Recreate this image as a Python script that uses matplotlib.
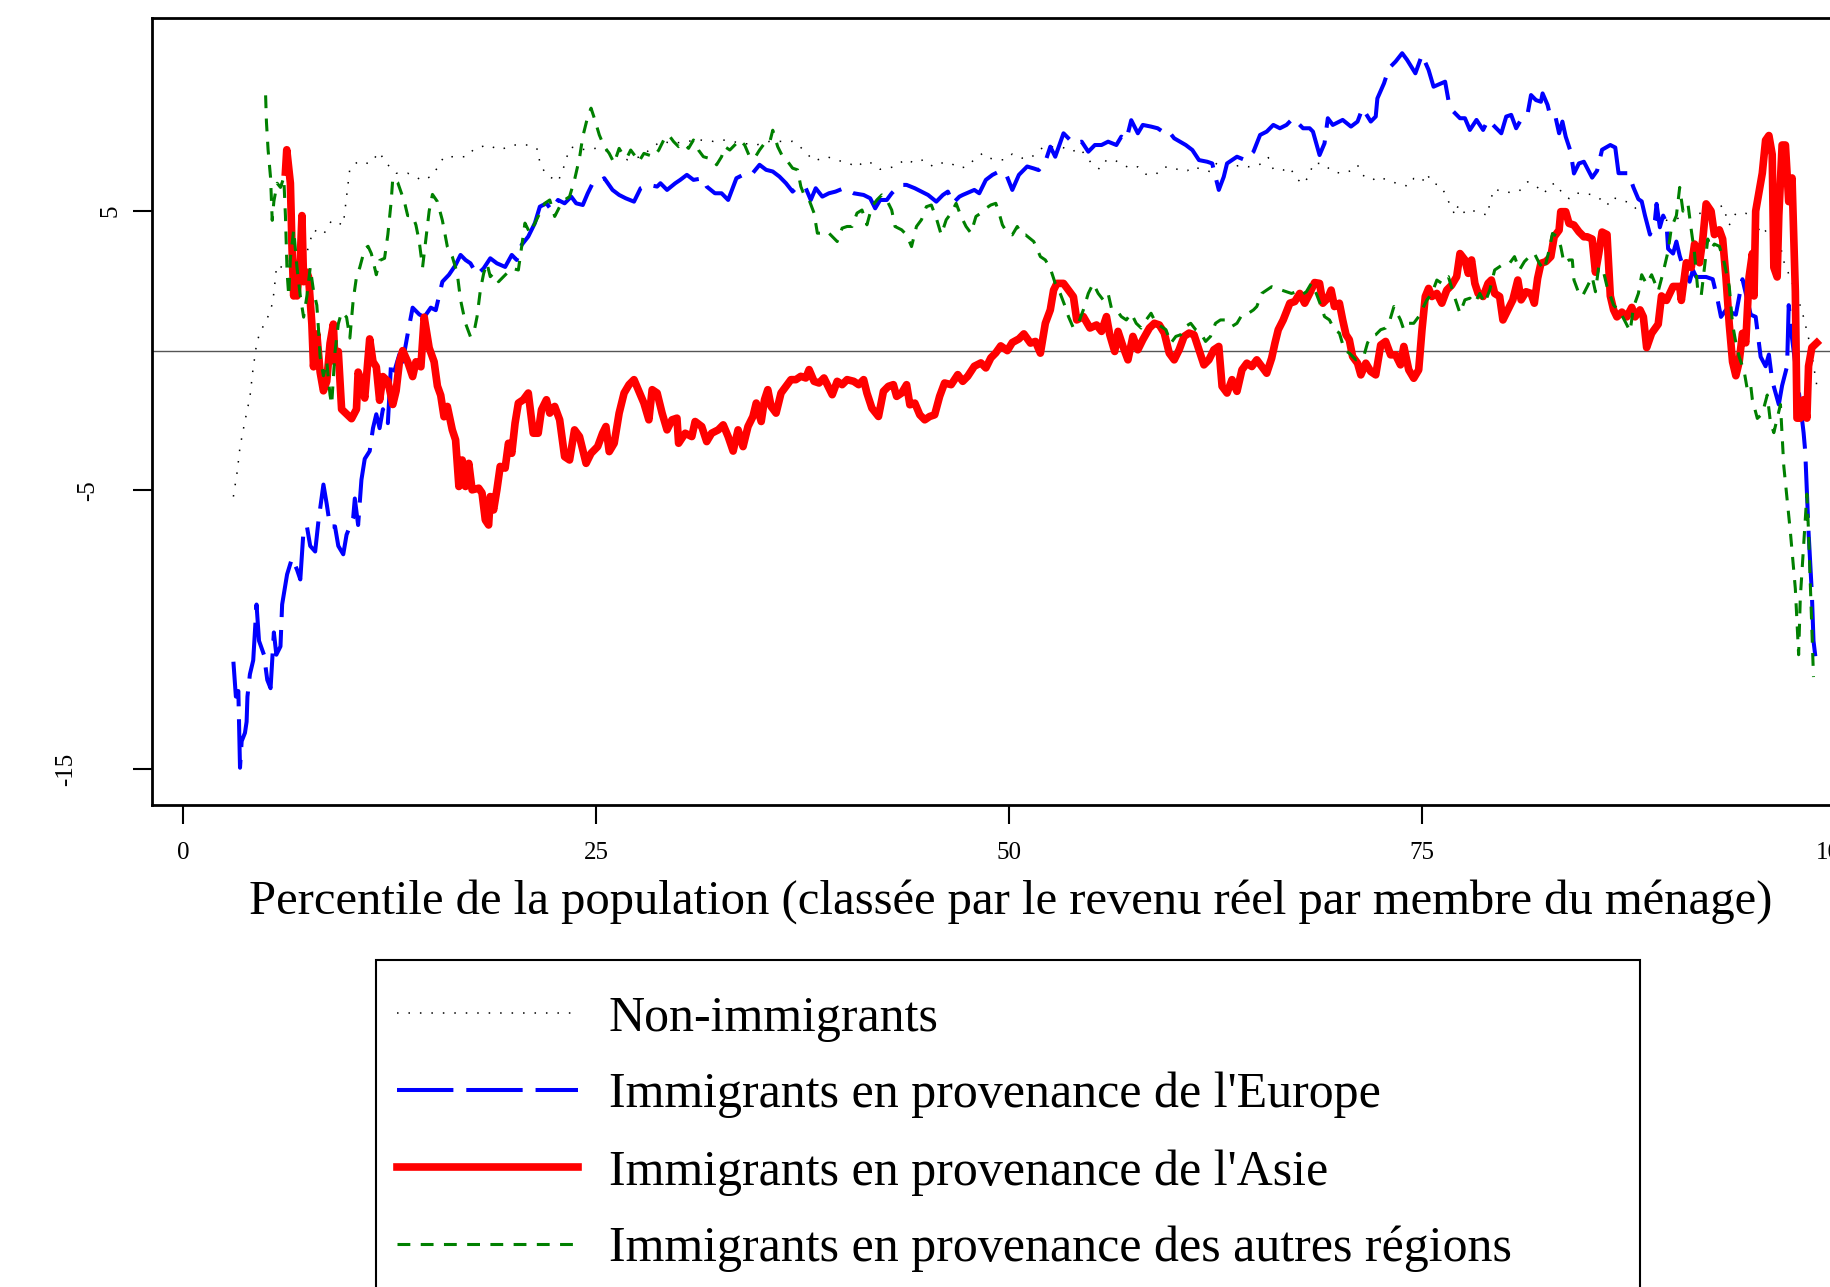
import matplotlib
matplotlib.use("Agg")
import matplotlib.pyplot as plt
import matplotlib.transforms as mtransforms
from matplotlib.lines import Line2D
from matplotlib.patches import Rectangle

plt.rcParams['font.family'] = ['Liberation Serif', 'DejaVu Serif']

# Non-immigrants (black dotted)
nonimm_x = [3.05, 3.29, 3.45, 3.75, 4.05, 4.22, 4.42, 4.62, 5.1, 5.43, 5.57, 5.67, 6.07, 6.47, 7.48, 7.89, 8.5, 9.0, 9.7, 9.9,
            10.1, 10.6, 11.3, 11.9, 12.2, 12.9, 13.6, 14.5, 15.1, 15.8, 16.4, 17.2, 17.6, 18.4, 19.2, 20.0, 21.0, 21.5, 21.6, 22.0,
            22.7, 23.0, 23.2, 23.5, 24.0, 25.0, 26.1, 26.9, 27.7, 28.9, 29.7, 30.5, 31.3, 32.1, 32.7, 33.9, 34.7, 35.5, 36.3, 36.9,
            37.3, 37.8, 38.2, 39.0, 39.5, 40.3, 40.8, 41.2, 41.7, 42.2, 42.7, 43.2, 43.7, 44.3, 44.8, 45.4, 45.8, 46.4, 47.0, 47.5,
            47.9, 48.4, 48.8, 49.3, 49.8, 50.2, 50.8, 51.3, 52.1, 52.7, 53.2, 53.8, 54.3, 55.0, 55.5, 55.9, 56.4, 56.9, 57.4, 57.8,
            58.3, 58.9, 59.3, 59.8, 60.4, 60.8, 61.1, 61.7, 62.2, 62.6, 63.1, 63.6, 64.0, 64.5, 65.0, 65.4, 65.7, 66.0, 66.6, 67.0,
            67.4, 67.8, 68.2, 68.4, 69.0, 69.6, 70.2, 70.8, 71.1, 71.4, 72.0, 72.3, 72.8, 73.2, 73.8, 74.2, 74.5, 75.0, 75.3, 75.6,
            76.1, 76.4, 76.7, 77.0, 77.2, 77.6, 78.0, 78.5, 79.0, 79.1, 79.4, 79.8, 80.4, 80.9, 81.4, 81.9, 82.4, 82.7, 83.1, 83.5,
            83.9, 84.3, 84.8, 85.2, 85.8, 86.2, 86.5, 87.0, 87.6, 88.1, 88.6, 89.2, 89.8, 90.6, 91.4, 92.2, 93.2, 93.6, 94.0, 94.6,
            95.1, 95.5, 96.1, 96.5, 96.9, 97.3, 97.7, 98.1, 98.5, 98.9]
nonimm_y = [-5.23, -4.3, -3.45, -2.52, -1.67, -0.75, 0.1, 0.61, 1.15, 1.71, 2.47, 3.06, 2.97, 3.23, 3.48, 4.33, 4.16, 4.67, 4.5, 5.5,
            6.53, 6.78, 6.7, 7.12, 6.78, 6.36, 6.36, 6.1, 6.27, 6.95, 6.95, 6.95, 7.22, 7.37, 7.2, 7.37, 7.37, 7.2, 6.7, 6.3,
            6.06, 6.48, 6.9, 7.3, 7.2, 7.25, 7.1, 6.84, 6.95, 7.5, 7.43, 7.5, 7.55, 7.5, 7.55, 7.43, 7.37, 7.5, 7.5, 7.5,
            7.34, 7.04, 6.8, 6.95, 6.84, 6.72, 6.57, 6.78, 6.72, 6.5, 6.54, 6.62, 6.86, 6.72, 6.84, 6.6, 6.72, 6.74, 6.54, 6.6,
            6.86, 7.07, 6.9, 6.84, 6.84, 7.05, 6.9, 6.9, 7.31, 7.3, 7.3, 7.13, 7.25, 6.71, 6.5, 6.83, 6.83, 6.65, 6.53, 6.59,
            6.32, 6.32, 6.57, 6.59, 6.45, 6.45, 6.59, 6.5, 6.41, 6.74, 6.59, 6.59, 6.65, 6.59, 6.65, 6.71, 6.92, 6.5, 6.47, 6.57,
            6.17, 5.97, 6.29, 6.71, 6.71, 6.41, 6.35, 6.47, 6.65, 6.29, 6.11, 6.23, 6.14, 6.05, 5.93, 5.9, 6.17, 6.05, 6.35, 6.0,
            5.93, 5.63, 5.22, 4.86, 5.22, 4.92, 5.04, 4.92, 4.86, 5.34, 5.81, 5.69, 5.67, 5.73, 6.05, 5.9, 5.63, 5.93, 6.0, 5.63,
            5.45, 5.65, 5.62, 5.6, 5.43, 5.2, 5.5, 5.4, 5.3, 5.0, 4.84, 4.8, 4.67, 4.75, 4.92, 4.92, 5.2, 4.5, 4.92, 4.92,
            4.84, 4.16, 4.42, 4.3, 3.2, 2.6, 2.0, 1.2, 0.2, -1.25]

# Immigrants from Europe (blue long dash)
europe_x = [3.05, 3.2, 3.35, 3.45, 3.55, 3.75, 3.85, 3.9, 4.05, 4.25, 4.45, 4.6, 4.9, 5.1, 5.3, 5.5, 5.65, 5.9, 6.0, 6.3,
            6.6, 6.9, 7.1, 7.3, 7.5, 7.7, 8.0, 8.2, 8.5, 8.7, 8.9, 9.2, 9.4, 9.7, 9.9, 10.3, 10.4, 10.6, 10.8, 11.0,
            11.3, 11.5, 11.7, 11.9, 12.1, 12.4, 12.6, 12.8, 13.1, 13.3, 13.6, 13.9, 14.3, 14.6, 15.0, 15.3, 15.7, 16.1, 16.5, 16.8,
            17.1, 17.4, 17.8, 18.2, 18.6, 19.0, 19.5, 19.9, 20.2, 20.5, 20.9, 21.3, 21.6, 22.0, 22.3, 22.7, 23.1, 23.5, 23.8, 24.2,
            24.5, 24.8, 25.2, 25.5, 26.0, 26.4, 26.8, 27.3, 27.7, 28.2, 28.7, 28.9, 29.3, 29.8, 30.1, 30.5, 30.9, 31.5, 31.7, 32.2,
            32.6, 33.0, 33.5, 33.9, 34.4, 34.9, 35.3, 35.7, 36.1, 36.5, 36.9, 37.2, 37.7, 38.0, 38.3, 38.7, 39.1, 39.5, 40.0, 40.6,
            41.2, 41.6, 41.9, 42.2, 42.6, 42.9, 43.4, 43.8, 44.3, 44.7, 45.1, 45.6, 46.0, 46.3, 46.6, 47.0, 47.2, 47.9, 48.2, 48.6,
            49.0, 49.4, 49.8, 50.2, 50.6, 51.1, 51.5, 51.8, 52.2, 52.5, 52.8, 53.3, 53.9, 54.4, 54.8, 55.2, 55.6, 56.0, 56.5, 56.8,
            57.1, 57.4, 57.8, 58.1, 58.6, 59.0, 59.3, 59.6, 60.0, 60.7, 61.1, 61.5, 62.0, 62.3, 62.7, 63.0, 63.2, 63.8, 64.3, 64.8,
            65.2, 65.6, 66.0, 66.4, 66.8, 67.2, 67.8, 68.2, 68.4, 68.8, 69.1, 69.3, 69.6, 70.2, 70.7, 71.1, 71.4, 71.9, 72.2, 72.3,
            72.7, 73.0, 73.4, 73.8, 74.1, 74.6, 75.0, 75.4, 75.7, 76.4, 76.6, 76.9, 77.3, 77.6, 77.9, 78.3, 78.7, 79.0, 79.4, 79.8,
            80.1, 80.4, 80.7, 81.1, 81.4, 81.6, 81.9, 82.2, 82.3, 82.6, 82.8, 83.1, 83.3, 83.5, 83.7, 84.0, 84.2, 84.5, 84.8, 85.3,
            85.6, 85.9, 86.4, 86.7, 86.9, 87.5, 87.8, 88.1, 88.3, 88.5, 88.8, 89.1, 89.2, 89.4, 89.6, 89.8, 89.9, 90.2, 90.4, 90.6,
            90.9, 91.2, 91.4, 91.6, 92.2, 92.6, 92.9, 93.1, 93.4, 94.0, 94.4, 94.6, 94.9, 95.2, 95.5, 95.8, 96.0, 96.2, 96.6, 96.8,
            97.1, 97.2, 97.4, 97.8, 98.1, 98.2, 98.4, 98.6, 98.7, 98.9]
europe_y = [-11.15, -12.4, -12.2, -14.95, -14.0, -13.7, -13.3, -12.4, -11.6, -11.1, -9.1, -10.4, -10.9, -11.8, -12.1, -10.1, -10.9, -10.6, -9.1, -8.02,
            -7.44, -7.85, -8.2, -6.4, -6.3, -7.0, -7.2, -6.1, -4.8, -5.5, -6.3, -6.3, -7.0, -7.3, -6.6, -6.0, -5.3, -6.25, -4.63, -3.88,
            -3.6, -2.78, -2.28, -2.78, -2.1, -2.6, -0.4, -0.72, -0.13, -0.4, 0.6, 1.54, 1.3, 1.2, 1.54, 1.45, 2.47, 2.72, 3.07, 3.43,
            3.25, 3.13, 2.72, 2.95, 3.31, 3.13, 3.0, 3.43, 3.25, 3.79, 4.09, 4.57, 5.16, 5.28, 5.04, 5.4, 5.28, 5.52, 5.28, 5.22,
            5.64, 6.0, 6.06, 6.18, 5.76, 5.58, 5.46, 5.34, 5.82, 5.94, 5.88, 6.0, 5.76, 6.0, 6.12, 6.3, 6.12, 6.18, 5.88, 5.64,
            5.64, 5.4, 6.18, 6.3, 6.3, 6.66, 6.48, 6.42, 6.24, 6.0, 5.7, 5.88, 5.82, 5.4, 5.82, 5.52, 5.64, 5.7, 5.82, 5.64,
            5.58, 5.46, 5.1, 5.4, 5.4, 5.64, 5.94, 5.94, 5.82, 5.7, 5.58, 5.34, 5.58, 5.7, 5.28, 5.52, 5.58, 5.76, 5.64, 6.12,
            6.3, 6.42, 6.36, 5.76, 6.3, 6.6, 6.53, 6.47, 6.77, 7.31, 6.95, 7.79, 7.43, 7.49, 7.13, 7.37, 7.37, 7.49, 7.37, 7.67,
            7.55, 8.26, 7.79, 8.09, 8.03, 7.97, 7.85, 7.91, 7.61, 7.37, 7.19, 6.83, 6.77, 6.71, 5.76, 6.23, 6.71, 6.95, 6.83, 7.13,
            7.73, 7.85, 8.09, 7.97, 8.09, 8.33, 7.97, 7.97, 7.85, 7.01, 7.43, 8.33, 8.09, 8.27, 8.03, 8.21, 8.69, 8.21, 8.39, 9.04,
            9.58, 10.12, 10.36, 10.66, 10.42, 9.94, 10.6, 10.06, 9.46, 9.64, 8.98, 8.57, 8.33, 8.33, 7.91, 8.27, 7.91, 8.27, 8.03, 7.79,
            8.39, 8.45, 7.97, 8.39, 8.51, 9.16, 8.98, 8.92, 9.22, 8.81, 8.33, 8.33, 7.79, 8.21, 7.67, 7.13, 6.35, 6.71, 6.77, 6.2,
            6.45, 7.2, 7.37, 7.28, 6.36, 6.36, 5.85, 5.43, 5.35, 4.84, 4.16, 4.67, 5.26, 4.42, 4.84, 4.58, 3.65, 3.48, 3.91, 3.4,
            2.81, 2.47, 2.89, 2.64, 2.64, 2.56, 1.8, 1.21, 1.46, 1.29, 2.56, 2.05, 1.29, 1.21, -0.22, -0.56, -0.14, -1.08, -1.93, -1.25,
            -0.56, 1.63, 0.45, -1.42, -2.94, -3.62, -6.5, -8.7, -10.4, -11.4]

# Immigrants from Asia (red solid)
asia_x = [6.2, 6.28, 6.5, 6.6, 6.7, 6.8, 6.9, 7.1, 7.2, 7.3, 7.5, 7.6, 7.8, 7.9, 8.0, 8.1, 8.3, 8.5, 8.7, 8.9,
          9.1, 9.2, 9.4, 9.6, 9.9, 10.2, 10.5, 10.6, 10.8, 11.0, 11.3, 11.5, 11.7, 11.9, 12.1, 12.4, 12.7, 12.9, 13.1, 13.3,
          13.6, 13.9, 14.1, 14.4, 14.6, 14.9, 15.2, 15.4, 15.6, 15.8, 16.0, 16.3, 16.5, 16.7, 16.9, 17.1, 17.3, 17.5, 17.9, 18.1,
          18.3, 18.5, 18.6, 18.8, 19.0, 19.2, 19.5, 19.7, 19.9, 20.1, 20.3, 20.6, 20.9, 21.2, 21.5, 21.7, 22.0, 22.2, 22.5, 22.8,
          23.1, 23.4, 23.7, 24.0, 24.4, 24.7, 25.1, 25.4, 25.6, 25.8, 26.1, 26.4, 26.7, 27.0, 27.3, 27.6, 27.9, 28.2, 28.4, 28.7,
          29.0, 29.3, 29.6, 29.9, 30.0, 30.4, 30.8, 31.0, 31.4, 31.7, 32.0, 32.4, 32.7, 33.0, 33.3, 33.6, 33.9, 34.2, 34.5, 34.7,
          35.0, 35.2, 35.4, 35.6, 35.9, 36.2, 36.5, 36.8, 37.1, 37.4, 37.7, 37.9, 38.2, 38.5, 38.8, 39.0, 39.3, 39.6, 39.9, 40.2,
          40.6, 40.9, 41.2, 41.4, 41.7, 42.1, 42.4, 42.7, 43.0, 43.2, 43.5, 43.8, 44.0, 44.3, 44.6, 44.9, 45.2, 45.5, 45.8, 46.1,
          46.5, 46.9, 47.2, 47.5, 47.9, 48.3, 48.6, 48.9, 49.2, 49.5, 49.9, 50.2, 50.6, 50.9, 51.3, 51.6, 51.9, 52.2, 52.5, 52.7,
          52.9, 53.3, 53.6, 53.9, 54.1, 54.5, 54.9, 55.3, 55.6, 55.9, 56.1, 56.4, 56.6, 56.9, 57.2, 57.5, 57.8, 58.1, 58.5, 58.8,
          59.1, 59.4, 59.7, 60.0, 60.3, 60.6, 60.9, 61.2, 61.5, 61.8, 62.1, 62.4, 62.7, 62.9, 63.2, 63.5, 63.8, 64.1, 64.4, 64.7,
          65.0, 65.3, 65.6, 65.9, 66.1, 66.3, 66.6, 66.8, 67.0, 67.3, 67.6, 67.9, 68.2, 68.5, 68.8, 69.0, 69.3, 69.5, 69.7, 70.0,
          70.2, 70.4, 70.6, 70.8, 71.1, 71.3, 71.6, 71.9, 72.2, 72.5, 72.8, 73.1, 73.4, 73.7, 73.9, 74.2, 74.5, 74.8, 75.0, 75.2,
          75.4, 75.6, 75.9, 76.2, 76.5, 76.8, 77.1, 77.3, 77.6, 77.8, 78.0, 78.2, 78.4, 78.7, 79.0, 79.2, 79.4, 79.7, 79.9, 80.2,
          80.5, 80.8, 81.0, 81.3, 81.6, 81.8, 82.0, 82.2, 82.5, 82.8, 83.0, 83.3, 83.4, 83.7, 83.9, 84.2, 84.5, 84.8, 85.0, 85.3,
          85.5, 85.7, 85.9, 86.2, 86.4, 86.6, 86.8, 87.1, 87.4, 87.7, 87.9, 88.2, 88.4, 88.6, 88.9, 89.3, 89.5, 89.8, 90.2, 90.6,
          90.7, 91.0, 91.3, 91.5, 91.8, 92.0, 92.2, 92.5, 92.7, 93.0, 93.2, 93.4, 93.6, 93.8, 94.0, 94.2, 94.4, 94.6, 94.8, 95.0,
          95.1, 95.2, 95.4, 95.6, 95.8, 96.0, 96.2, 96.3, 96.5, 96.6, 96.8, 97.0, 97.2, 97.4, 97.6, 97.7, 97.9, 98.1, 98.3, 98.4,
          98.6, 98.9]
asia_y = [6.4, 7.2, 6.0, 3.65, 1.96, 2.98, 1.96, 3.31, 4.84, 2.47, 2.81, 2.64, 0.95, -0.58, 0.1, 0.6, -0.77, -1.44, -1.1, 0.26,
          0.95, -0.4, -0.03, -2.1, -2.27, -2.44, -2.1, -0.77, -1.1, -1.7, 0.42, -0.4, -0.58, -1.78, -0.93, -1.1, -1.93, -1.44, -0.4, 0.0,
          -0.4, -0.93, -0.4, -0.58, 1.2, 0.1, -0.4, -1.27, -1.6, -2.37, -2.0, -2.84, -3.2, -4.87, -3.92, -4.87, -4.04, -4.99, -4.93, -5.1,
          -6.07, -6.25, -5.23, -5.71, -4.99, -4.15, -4.21, -3.32, -3.68, -2.6, -1.88, -1.76, -1.52, -2.96, -2.96, -2.12, -1.76, -2.24, -2.0, -2.48,
          -3.8, -3.92, -2.84, -3.08, -4.04, -3.68, -3.44, -2.96, -2.72, -3.62, -3.32, -2.24, -1.52, -1.22, -1.04, -1.46, -1.88, -2.48, -1.4, -1.52,
          -2.24, -2.84, -2.48, -2.42, -3.32, -2.96, -3.08, -2.54, -2.72, -3.26, -2.96, -2.84, -2.66, -3.08, -3.6, -2.84, -3.44, -2.72, -2.36, -1.88,
          -2.54, -1.76, -1.4, -2.0, -2.24, -1.52, -1.28, -1.04, -1.04, -0.92, -0.98, -0.68, -1.1, -1.16, -0.98, -1.22, -1.58, -1.1, -1.22, -1.04,
          -1.1, -1.22, -1.04, -1.52, -2.06, -2.36, -1.46, -1.28, -1.22, -1.64, -1.52, -1.22, -1.94, -1.88, -2.3, -2.48, -2.36, -2.3, -1.64, -1.16,
          -1.22, -0.86, -1.1, -0.92, -0.56, -0.44, -0.62, -0.26, -0.08, 0.17, 0.0, 0.29, 0.42, 0.6, 0.27, 0.33, -0.09, 0.98, 1.46, 2.17,
          2.41, 2.41, 2.17, 1.93, 1.1, 1.22, 0.81, 0.92, 0.69, 1.22, 0.57, -0.03, 0.69, 0.15, -0.33, 0.51, 0.03, 0.39, 0.81, 0.98,
          0.92, 0.63, -0.09, -0.33, 0.03, 0.51, 0.63, 0.57, 0.03, -0.51, -0.33, 0.03, 0.15, -1.28, -1.52, -1.04, -1.46, -0.69, -0.45, -0.57,
          -0.33, -0.57, -0.81, -0.27, 0.27, 0.75, 1.1, 1.4, 1.7, 1.76, 2.05, 1.7, 2.05, 2.44, 2.41, 1.7, 1.88, 2.17, 1.58, 1.7,
          1.1, 0.57, 0.39, -0.21, -0.45, -0.87, -0.45, -0.75, -0.87, 0.2, 0.33, -0.15, -0.15, -0.51, 0.15, -0.69, -0.99, -0.69, 0.75, 1.94,
          2.23, 1.94, 2.05, 1.7, 2.17, 2.35, 2.65, 3.48, 3.25, 2.77, 3.25, 2.41, 2.05, 1.94, 2.41, 2.53, 2.05, 1.94, 1.1, 1.46,
          1.82, 2.53, 1.82, 2.11, 2.05, 1.7, 2.59, 3.13, 3.19, 3.37, 4.08, 4.32, 4.98, 4.98, 4.56, 4.5, 4.26, 4.08, 4.08, 4.0,
          2.81, 3.48, 4.25, 4.16, 1.96, 1.46, 1.21, 1.38, 1.21, 1.55, 1.21, 1.46, 1.21, 0.11, 0.62, 0.95, 1.96, 1.8, 2.3, 2.3,
          1.8, 3.15, 2.98, 3.82, 3.15, 4.0, 5.26, 5.0, 4.16, 4.33, 4.0, 2.64, 0.95, -0.4, -0.9, -0.4, 0.62, 0.28, 2.64, 3.48,
          1.96, 5.0, 5.68, 6.36, 7.54, 7.71, 7.03, 2.98, 2.64, 4.84, 7.37, 7.37, 5.34, 6.19, 2.13, -2.42, -2.42, -1.76, -2.42, -0.56,
          0.11, 0.28]

# Immigrants from other regions (green dashed)
other_x = [5.0, 5.05, 5.15, 5.3, 5.4, 5.5, 5.7, 5.9, 6.1, 6.2, 6.3, 6.4, 6.5, 6.7, 6.9, 7.1, 7.3, 7.5, 7.7, 7.9,
           8.1, 8.2, 8.3, 8.5, 8.7, 8.9, 9.0, 9.2, 9.4, 9.6, 9.9, 10.1, 10.3, 10.5, 10.7, 11.0, 11.2, 11.4, 11.7, 11.9,
           12.2, 12.4, 12.6, 12.7, 13.0, 13.4, 13.6, 13.9, 14.1, 14.3, 14.5, 14.7, 14.9, 15.1, 15.4, 15.7, 16.0, 16.3, 16.6, 16.8,
           17.1, 17.4, 17.6, 17.8, 18.0, 18.2, 18.4, 18.6, 18.8, 19.1, 19.4, 19.7, 19.9, 20.3, 20.5, 20.7, 21.0, 21.3, 21.6, 21.9,
           22.2, 22.5, 22.8, 23.1, 23.4, 23.7, 24.0, 24.2, 24.5, 24.7, 24.9, 25.2, 25.5, 25.8, 26.1, 26.4, 26.7, 26.9, 27.1, 27.4,
           27.6, 27.9, 28.2, 28.5, 28.8, 29.1, 29.4, 29.7, 30.0, 30.3, 30.6, 30.9, 31.2, 31.5, 31.8, 32.1, 32.3, 32.6, 32.8, 33.1,
           33.4, 33.7, 34.0, 34.3, 34.6, 34.9, 35.2, 35.5, 35.7, 36.0, 36.3, 36.6, 36.9, 37.2, 37.4, 37.6, 37.9, 38.2, 38.4, 38.7,
           39.0, 39.3, 39.6, 39.9, 40.2, 40.5, 40.8, 41.1, 41.4, 41.7, 42.0, 42.3, 42.6, 42.9, 43.1, 43.5, 43.8, 44.1, 44.4, 44.7,
           45.0, 45.3, 45.6, 45.9, 46.2, 46.5, 46.8, 47.1, 47.4, 47.7, 48.0, 48.3, 48.6, 48.9, 49.2, 49.4, 49.6, 49.9, 50.2, 50.5,
           50.8, 51.0, 51.5, 51.9, 52.2, 52.5, 52.8, 53.1, 53.4, 53.6, 53.9, 54.2, 54.5, 54.8, 55.1, 55.4, 55.7, 56.0, 56.2, 56.5,
           56.8, 57.1, 57.4, 57.7, 58.0, 58.3, 58.6, 58.9, 59.2, 59.5, 59.8, 60.1, 60.4, 60.7, 61.0, 61.3, 61.6, 61.9, 62.2, 62.5,
           62.8, 63.1, 63.5, 63.8, 64.1, 64.5, 64.8, 65.0, 65.3, 65.6, 65.9, 66.2, 66.5, 66.8, 67.1, 67.4, 67.7, 68.0, 68.3, 68.6,
           68.9, 69.1, 69.4, 69.7, 70.0, 70.3, 70.6, 71.0, 71.3, 71.5, 71.7, 71.9, 72.2, 72.5, 72.8, 73.0, 73.3, 73.5, 73.7, 73.9,
           74.2, 74.5, 74.8, 75.0, 75.3, 75.6, 75.9, 76.2, 76.4, 76.6, 76.9, 77.1, 77.3, 77.6, 77.9, 78.2, 78.5, 78.8, 79.1, 79.4,
           79.7, 80.0, 80.3, 80.6, 80.9, 81.2, 81.5, 81.8, 82.1, 82.4, 82.7, 82.9, 83.2, 83.4, 83.6, 83.9, 84.1, 84.2, 84.5, 84.7,
           85.0, 85.3, 85.5, 85.7, 86.0, 86.2, 86.4, 86.6, 87.0, 87.3, 87.6, 87.8, 88.1, 88.3, 88.6, 88.9, 89.3, 89.6, 89.9, 90.1,
           90.4, 90.6, 90.8, 91.1, 91.3, 91.5, 91.7, 91.9, 92.1, 92.3, 92.5, 92.7, 93.0, 93.3, 93.6, 93.8, 94.0, 94.2, 94.5, 94.7,
           94.9, 95.0, 95.3, 95.6, 95.9, 96.1, 96.3, 96.5, 96.7, 96.9, 97.1, 97.3, 97.6, 97.8, 97.9, 98.1, 98.3, 98.4, 98.5, 98.6,
           98.7]
other_y = [9.15, 8.2, 7.2, 6.2, 4.67, 5.35, 6.0, 5.85, 6.2, 4.84, 2.81, 1.96, 3.31, 4.33, 2.98, 1.96, 1.2, 1.96, 2.98, 2.14,
           1.63, 0.78, -0.22, -0.9, -0.39, -1.59, -1.93, -0.05, 0.96, 1.38, 1.2, 0.45, 1.8, 2.64, 2.98, 3.65, 3.74, 3.48, 2.72, 3.23,
           3.31, 4.16, 5.34, 6.19, 6.02, 5.34, 4.84, 4.84, 4.5, 3.91, 2.98, 4.0, 5.0, 5.6, 5.34, 4.67, 3.73, 3.37, 2.77, 1.82,
           0.98, 0.5, 0.62, 1.22, 2.17, 2.77, 3.13, 2.65, 2.77, 2.47, 2.65, 2.83, 2.95, 2.89, 3.73, 4.57, 4.21, 4.57, 4.93, 5.28,
           5.4, 4.81, 5.16, 5.4, 5.52, 6.12, 6.9, 7.67, 8.39, 8.69, 8.33, 7.73, 7.31, 7.07, 6.72, 7.25, 6.95, 6.95, 7.19, 6.95,
           6.78, 7.07, 7.01, 6.95, 7.19, 7.55, 7.73, 7.49, 7.31, 7.43, 7.25, 7.55, 7.19, 6.95, 6.9, 6.84, 6.66, 6.95, 7.31, 7.19,
           7.37, 7.55, 7.37, 6.95, 6.9, 7.19, 7.43, 7.43, 7.9, 7.31, 6.95, 6.78, 6.54, 6.48, 5.88, 5.58, 5.4, 4.93, 4.21, 4.21,
           4.27, 4.09, 3.91, 4.39, 4.45, 4.45, 4.93, 5.04, 4.51, 5.16, 5.4, 5.58, 5.4, 5.04, 4.45, 4.33, 4.15, 3.73, 4.45, 4.69,
           5.16, 5.22, 4.75, 4.15, 4.69, 4.93, 5.28, 4.81, 4.45, 4.21, 4.81, 4.93, 5.1, 5.22, 5.28, 4.93, 4.51, 4.21, 4.15, 4.45,
           4.15, 4.15, 3.91, 3.37, 3.25, 2.95, 2.41, 2.05, 1.58, 1.22, 0.81, 0.98, 1.46, 2.05, 2.41, 2.05, 1.82, 2.05, 1.52, 1.46,
           1.22, 1.1, 1.34, 0.98, 0.81, 1.1, 1.34, 0.98, 0.87, 0.75, 0.27, 0.51, 0.57, 0.87, 0.98, 0.75, 0.63, 0.33, 0.51, 0.98,
           1.1, 1.1, 0.87, 0.98, 1.28, 1.34, 1.46, 1.58, 2.05, 2.17, 2.29, 2.23, 2.17, 2.11, 2.05, 2.11, 1.99, 2.11, 2.41, 2.05,
           1.58, 1.22, 1.1, 0.75, 0.63, 0.03, -0.09, -0.33, -0.27, -0.15, 0.27, 0.51, 0.57, 0.75, 0.81, 0.98, 1.58, 1.34, 1.1, 0.75,
           0.98, 0.98, 1.22, 1.46, 1.82, 2.05, 2.53, 2.41, 2.59, 2.65, 2.05, 1.7, 1.34, 1.82, 1.88, 1.7, 2.05, 1.7, 2.17, 2.89,
           3.01, 3.13, 3.13, 3.37, 2.89, 3.19, 3.37, 3.49, 3.13, 2.89, 3.61, 4.2, 4.08, 3.73, 3.13, 3.25, 3.25, 2.53, 2.05, 1.94,
           2.29, 2.65, 2.11, 3.01, 2.8, 2.3, 1.96, 1.63, 1.38, 1.04, 0.69, 1.55, 2.05, 2.72, 2.38, 2.72, 2.13, 2.81, 3.57, 4.42,
           4.84, 5.85, 5.0, 5.26, 4.33, 3.48, 2.13, 1.96, 2.98, 4.0, 3.65, 3.82, 3.74, 3.15, 2.3, 0.95, 0.28, -0.22, -0.73, -1.42,
           -1.25, -1.76, -2.43, -2.26, -1.59, -2.6, -2.94, -2.43, -1.93, -4.13, -5.31, -6.5, -8.53, -10.9, -8.87, -7.0, -5.14, -6.5, -8.2, -9.88,
           -11.7]

labels = ["Non-immigrants",
          "Immigrants en provenance de l'Europe",
          "Immigrants en provenance de l'Asie",
          "Immigrants en provenance des autres régions"]

xticks = [0, 25, 50, 75, 100]
yticks = [5, -5, -15]

fig = plt.figure(figsize=(18.3, 12.87), dpi=100)
ax = fig.add_axes([0.0829, 0.3742, 0.9469, 0.6122])

ax.axhline(0, color='#555555', lw=1.0, zorder=1)

black_style = dict(color='black', lw=1.1, dashes=(1, 6.5))
blue_style = dict(color='#0000FF', lw=2.9, dashes=(14, 3.2))
red_style = dict(color='#FF0000', lw=5.5, solid_joinstyle='round')
green_style = dict(color='#008000', lw=2.2, dashes=(4.2, 3.4))

ax.plot(nonimm_x, nonimm_y, **black_style)
ax.plot(europe_x, europe_y, **blue_style)
ax.plot(asia_x, asia_y, **red_style)
ax.plot(other_x, other_y, **green_style)

ax.set_xlim(-1.895, 103)
ax.set_ylim(-16.30, 11.94)

for s in ['left', 'top', 'bottom', 'right']:
    ax.spines[s].set_linewidth(2.0)

ax.set_xticks(xticks)
ax.set_xticklabels([str(v) for v in xticks])
ax.set_yticks(yticks)
ax.set_yticklabels([str(v) for v in yticks], rotation=90, va='center', ha='right')
ax.tick_params(axis='both', direction='out', length=13.5, width=1.5, labelsize=18)
ax.tick_params(axis='x', pad=13)
ax.tick_params(axis='y', pad=8)

# stagger the y tick labels like the original
offsets = {'5': 0, '-5': -23, '-15': -45}
for lab in ax.get_yticklabels():
    dx = offsets.get(lab.get_text(), 0)
    lab.set_transform(lab.get_transform() + mtransforms.ScaledTranslation(dx / 100, 0, fig.dpi_scale_trans))

ax.set_xlabel("Percentile de la population (classée par le revenu réel par membre du ménage)", fontsize=35)
ax.xaxis.label.set_va('center')
ax.xaxis.set_label_coords(0.4957, -0.1226)

# legend
handles = [Line2D([], [], **black_style), Line2D([], [], **blue_style),
           Line2D([], [], **red_style), Line2D([], [], **green_style)]
fig.legend(handles, labels, loc='upper left', bbox_to_anchor=(397 / 1830, 1 - 995 / 1287),
           frameon=False, fontsize=36, handlelength=3.62, handletextpad=0.62,
           labelspacing=0.61, borderpad=0, borderaxespad=0)
fig.add_artist(Rectangle((376 / 1830, -0.05), (1640 - 376) / 1830, 0.05 + 1 - 960.5 / 1287,
                         transform=fig.transFigure, fill=False, edgecolor='black', lw=1.5, clip_on=False))

fig.savefig("out.png", dpi=100)
